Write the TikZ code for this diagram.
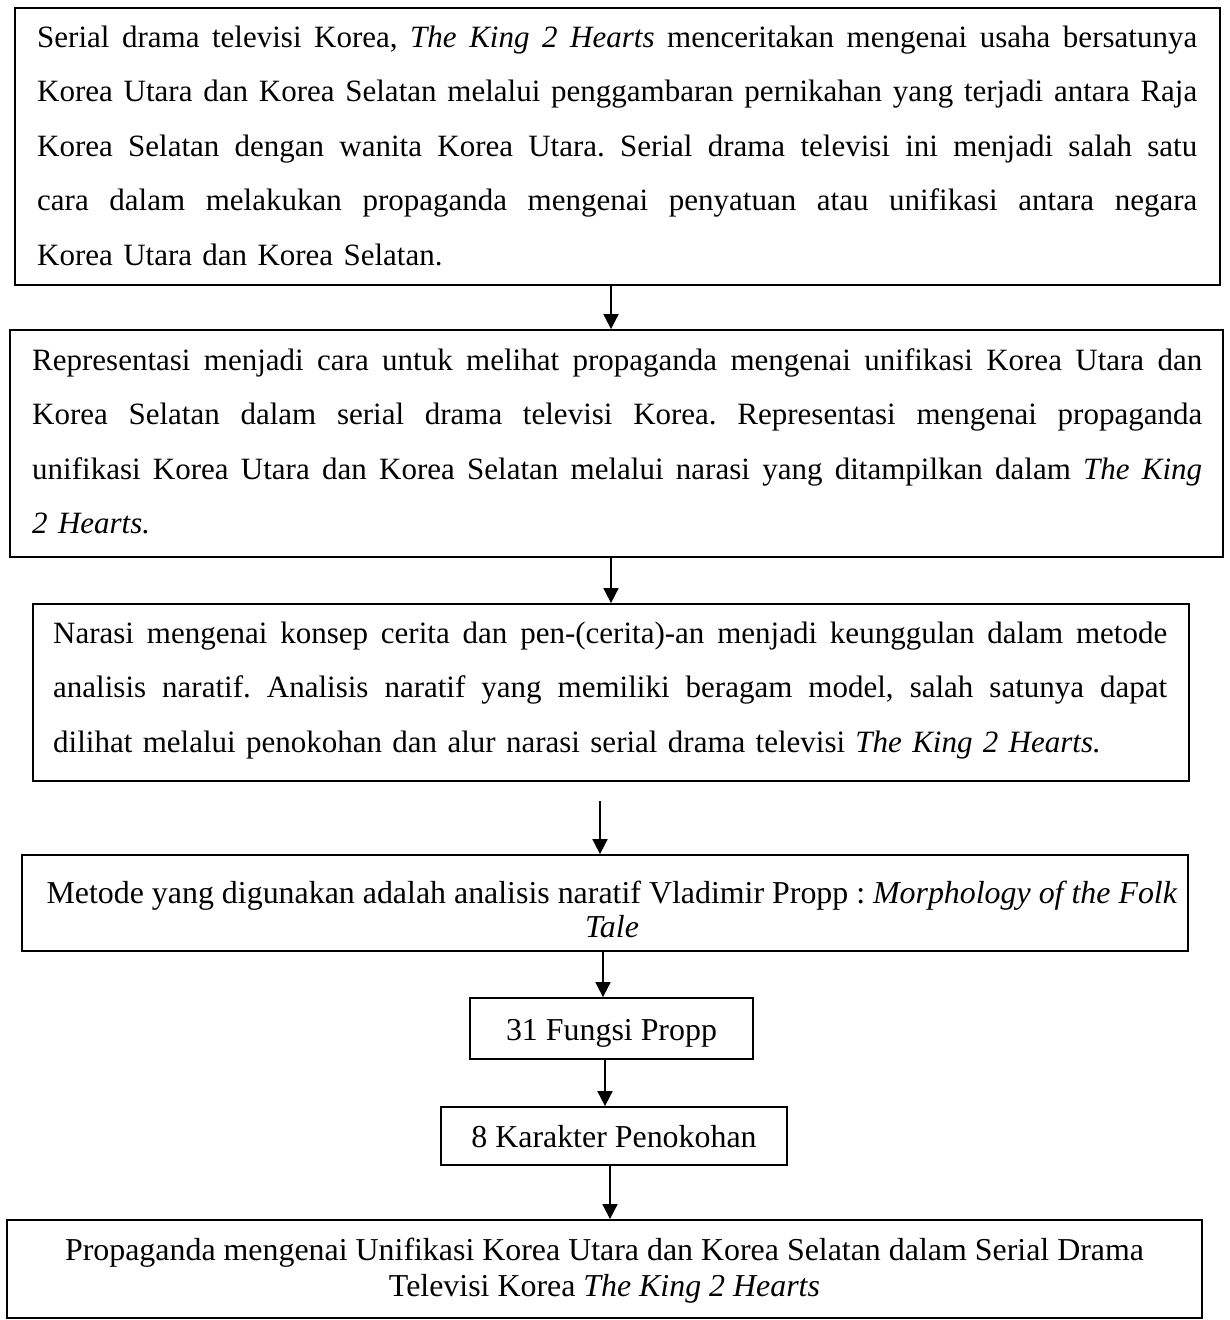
\documentclass[tikz,border=0pt]{standalone}
\usepackage{fontspec}
\setmainfont{Liberation Serif}
\usetikzlibrary{arrows.meta}
\newcommand\jline[2]{\leavevmode\hbox to #1{\spaceskip=0.25em plus 1fil\xspaceskip=0.25em plus 1fil\relax #2}}
\begin{document}
\frenchspacing
\begin{tikzpicture}[x=1pt,y=-1pt,
  box/.style={draw, line width=1.8pt, inner sep=0pt, rectangle},
  para/.style={inner sep=0pt, anchor=base west, align=left, font=\fontsize{31}{54.5}\selectfont\frenchspacing},
  ctr/.style={inner sep=0pt, anchor=base, align=center, font=\fontsize{31.9}{36}\selectfont},
  arr/.style={line width=1.8pt, -{Triangle[length=15pt,width=15pt]}}]
\useasboundingbox (0,0) rectangle (1230,1320);

% boxes
\node[box, minimum width=1205pt, minimum height=277pt] (b1) at (617.5,146.5) {};
\node[box, minimum width=1213pt, minimum height=227pt] (b2) at (616.5,443.5) {};
\node[box, minimum width=1156pt, minimum height=177pt] (b3) at (611,692.5) {};
\node[box, minimum width=1166pt, minimum height=96pt] (b4) at (605,903) {};
\node[box, minimum width=283pt, minimum height=61pt] (b5) at (611.5,1028.5) {};
\node[box, minimum width=346pt, minimum height=58pt] (b6) at (614,1136) {};
\node[box, minimum width=1195pt, minimum height=98pt] (b7) at (604.5,1269) {};

% texts
\node[para, text width=1160pt] (t1) at (37,47) {%
\jline{1160pt}{Serial drama televisi Korea, \emph{The King 2 Hearts} menceritakan mengenai usaha bersatunya}\\
\jline{1160pt}{Korea Utara dan Korea Selatan melalui penggambaran pernikahan yang terjadi antara Raja}\\
\jline{1160pt}{Korea Selatan dengan wanita Korea Utara. Serial drama televisi ini menjadi salah satu}\\
\jline{1160pt}{cara dalam melakukan propaganda mengenai penyatuan atau unifikasi antara negara}\\
Korea Utara dan Korea Selatan.};

\node[para, text width=1170pt] (t2) at (32,370) {%
\jline{1170pt}{Representasi menjadi cara untuk melihat propaganda mengenai unifikasi Korea Utara dan}\\
\jline{1170pt}{Korea Selatan dalam serial drama televisi Korea. Representasi mengenai propaganda}\\
\jline{1170pt}{unifikasi Korea Utara dan Korea Selatan melalui narasi yang ditampilkan dalam \emph{The King}}\\
\emph{2 Hearts.}};

\node[para, text width=1114pt] (t3) at (53,643) {%
\jline{1114pt}{Narasi mengenai konsep cerita dan pen-(cerita)-an menjadi keunggulan dalam metode}\\
\jline{1114pt}{analisis naratif. Analisis naratif yang memiliki beragam model, salah satunya dapat}\\
dilihat melalui penokohan dan alur narasi serial drama televisi \emph{The King 2 Hearts.}};

\node[ctr, font=\fontsize{31.9}{34}\selectfont] (t4) at (612,937) {Metode yang digunakan adalah analisis naratif Vladimir Propp : \emph{Morphology of the Folk}\\ \emph{Tale}};
\node[ctr] (t5) at (611.5,1040) {31 Fungsi Propp};
\node[ctr] (t6) at (614,1147.5) {8 Karakter Penokohan};
\node[ctr, font=\fontsize{31.9}{36}\selectfont] (t7) at (604.5,1296) {Propaganda mengenai Unifikasi Korea Utara dan Korea Selatan dalam Serial Drama\\ Televisi Korea \emph{The King 2 Hearts}};

% connectors
\coordinate (c3) at (600,801);
\draw[arr] ([xshift=-6.5pt]b1.south) -- ([xshift=-5.5pt]b2.north);
\draw[arr] ([xshift=-5.5pt]b2.south) -- (b3.north);
\draw[arr] (c3) -- ([xshift=-5pt]b4.north);
\draw[arr] ([xshift=-2pt]b4.south) -- ([xshift=-8.5pt]b5.north);
\draw[arr] ([xshift=-6.5pt]b5.south) -- ([xshift=-9pt]b6.north);
\draw[arr] ([xshift=-4pt]b6.south) -- ([xshift=5.5pt]b7.north);
\end{tikzpicture}
\end{document}
